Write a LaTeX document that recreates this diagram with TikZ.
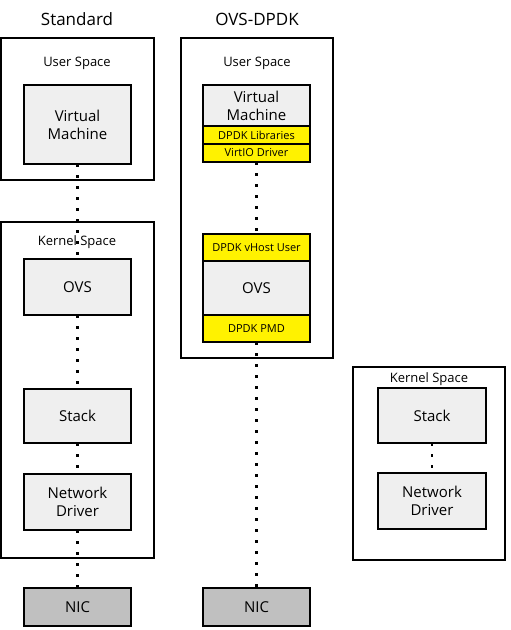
\documentclass[tikz,border=0pt]{standalone}
\usepackage{fontspec}
\setmainfont{Open Sans}
\usetikzlibrary{positioning}

\definecolor{partgray}{HTML}{EFEFEF}
\definecolor{nicgray}{HTML}{C0C0C0}

\begin{document}
\begin{tikzpicture}[x=1pt,y=-1pt,
  spacebox/.style={draw, line width=2pt, minimum width=152pt},
  partbox/.style={draw, line width=2pt, fill=partgray, minimum width=107pt, inner sep=1pt, outer sep=0pt, align=center, font=\fontsize{15}{18}\selectfont},
  dpdkbox/.style={partbox, fill=yellow, font=\fontsize{11}{13}\selectfont},
  nicbox/.style={partbox, fill=nicgray},
  dotline/.style={line width=2.7pt, dash pattern=on 2.7pt off 8.3pt},
  coltitle/.style={font=\fontsize{17}{20}\selectfont},
  spacelabel/.style={font=\fontsize{13}{15}\selectfont}]
  \useasboundingbox (0,0) rectangle (511,630);

  \node[coltitle] (std) at (77,19) {Standard};
  \node[coltitle] (ovsdpdk) at (257,19) {OVS-DPDK};

  % standard
  \node[spacebox, minimum width=153pt, minimum height=142pt] (user1) at (77.5,109) {};
  \node[spacelabel] (user1label) at (77,63.5) {User Space};
  \node[partbox, minimum height=79pt] (vm1) at (77.5,124.5) {Virtual\\Machine};
  \node[spacebox, minimum width=153pt, minimum height=336pt] (kernel1) at (77.5,390) {};
  \node[spacelabel] (kernel1label) at (77,242.5) {Kernel Space};
  \node[partbox, minimum height=56pt] (ovs1) at (77.5,287) {OVS};
  \node[partbox, minimum height=54pt] (stack1) at (77.5,416) {Stack};
  \node[partbox, minimum height=56pt] (driver1) at (77.5,502) {Network\\Driver};
  \node[nicbox, minimum height=38pt] (nic1) at (77.5,607) {NIC};

  % ovs-dpdk
  \node[spacebox, minimum height=320pt] (user2) at (257,198) {};
  \node[spacelabel] (user2label) at (257,63.5) {User Space};
  \node[partbox, minimum height=41pt] (vm2) at (256.5,105.5) {Virtual\\Machine};
  \node[dpdkbox, minimum height=18pt, below=0pt of vm2] (lib2) {DPDK Libraries};
  \node[dpdkbox, minimum height=18pt, below=0pt of lib2] (virtio2) {VirtIO Driver};
  \node[dpdkbox, minimum height=27pt] (vhost2) at (256.5,247.5) {DPDK vHost User};
  \node[partbox, minimum height=54pt, below=0pt of vhost2] (ovs2) {OVS};
  \node[dpdkbox, minimum height=27pt, below=0pt of ovs2] (pmd2) {DPDK PMD};
  \node[nicbox, minimum height=38pt] (nic2) at (256.5,607) {NIC};

  % kernel side
  \node[spacebox, minimum height=193pt] (kernel3) at (429,463.5) {};
  \node[spacelabel] (kernel3label) at (429,379.5) {Kernel Space};
  \node[partbox, minimum width=108pt, minimum height=55pt] (stack3) at (432,415.5) {Stack};
  \node[partbox, minimum width=108pt, minimum height=56pt] (driver3) at (432,501) {Network\\Driver};

  \draw[dotline] (vm1) -- (ovs1);
  \draw[dotline] (ovs1) -- (stack1);
  \draw[dotline] (stack1) -- (driver1);
  \draw[dotline] (driver1) -- (nic1);
  \draw[dotline] (virtio2) -- (vhost2);
  \draw[dotline] (pmd2) -- (nic2);
  \draw[dotline] (stack3) -- (driver3);
\end{tikzpicture}
\end{document}
